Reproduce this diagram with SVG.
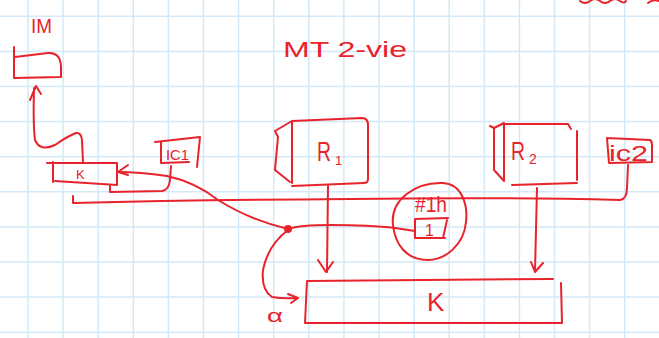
<svg xmlns="http://www.w3.org/2000/svg" width="659" height="338" viewBox="0 0 659 338">
<style>
.grid{stroke:#d3e9f8;stroke-width:1.5;fill:none}
.ink{stroke:#e8232b;stroke-width:2;fill:none;stroke-linecap:round;stroke-linejoin:round}
.lbl{fill:#e8232b;font-family:"Liberation Sans",Arial,sans-serif}
</style>
<rect width="659" height="338" fill="#ffffff"/>
<g id="grid" class="grid">
<path d="M28,0V338M63.1,0V338M98.2,0V338M133.3,0V338M168.4,0V338M203.5,0V338M238.6,0V338M273.7,0V338M308.8,0V338M343.9,0V338M379,0V338M414.1,0V338M449.2,0V338M484.3,0V338M519.4,0V338M554.5,0V338M589.6,0V338M624.7,0V338"/>
<path d="M0,16.3H659M0,51.4H659M0,86.5H659M0,121.6H659M0,156.7H659M0,191.8H659M0,226.9H659M0,262H659M0,297.1H659M0,332.2H659"/>
</g>
<g id="scribble" class="ink">
<path d="M580,1 q5,4 10,0 q5,-4 10,0 q5,4 10,0 q5,-4 10,0 q4,3 6,0 M648,3 q5,-4 11,-2"/>
</g>
<g id="title"><text class="lbl" x="283" y="57" font-size="22" textLength="124" lengthAdjust="spacingAndGlyphs">MT 2-vie</text></g>
<g id="IM">
<path class="ink" d="M14,47 L14,78 L61,77 L61,66 Q60,52 48,53 L15,57"/>
<text class="lbl" x="31" y="33" font-size="20" textLength="21" lengthAdjust="spacingAndGlyphs">IM</text>
</g>
<g id="K-small">
<path class="ink" d="M47,163 L117,163 M117,163 L117,185 M55,181 L117,185 M53,162 L53,182"/>
<text class="lbl" x="76" y="179" font-size="13">K</text>
</g>
<g id="IC1">
<path class="ink" d="M155,142 L200,137 L197,167 M161,142 L161,163 L189,162"/>
<text class="lbl" x="166" y="160" font-size="14" textLength="23" lengthAdjust="spacingAndGlyphs">IC1</text>
</g>
<g id="R1">
<path class="ink" d="M292,121 L362,118 Q368,118 368,125 L368,179 Q368,183 364,183 L292,186 M292,121 L292,183 M292,121 L275,131 L278,137 L275,170 L290,182"/>
<text class="lbl" x="317" y="161" font-size="27" textLength="14" lengthAdjust="spacingAndGlyphs">R</text>
<text class="lbl" x="335" y="165" font-size="13">1</text>
</g>
<g id="R2">
<path class="ink" d="M505,124 L568,124 L571,129 M577,131 L577,180 M512,185 L577,183 M490,126 L494,128 L494,170 L504,181 L504,123 L494,128"/>
<text class="lbl" x="511" y="160" font-size="25" textLength="14" lengthAdjust="spacingAndGlyphs">R</text>
<text class="lbl" x="529" y="164" font-size="14">2</text>
</g>
<g id="IC2">
<path class="ink" d="M607,138 L650,140 Q652,141 652,145 L652,162 L609,163 L607,138"/>
<text class="lbl" x="609" y="161" font-size="22" textLength="39" lengthAdjust="spacingAndGlyphs">ic2</text>
</g>
<g id="h1">
<path class="ink" d="M393,225 C390,200 415,182 443,183 C462,184 468,205 466,222 C464,245 445,260 428,260 C405,260 395,243 393,225 Z"/>
<text class="lbl" x="415" y="212" font-size="22" textLength="32" lengthAdjust="spacingAndGlyphs">#1h</text>
<path class="ink" d="M415,219 L448,218 M447,220 L443,238 M415,219 L415,238 L445,238"/>
<text class="lbl" x="425" y="236" font-size="16">1</text>
</g>
<g id="K-big">
<path class="ink" d="M307,281 L553,279 M307,281 L305,323 L562,323 M561,283 L562,323"/>
<text class="lbl" x="427" y="311" font-size="26">K</text>
</g>
<g id="alpha"><text class="lbl" x="267" y="322" font-size="18" textLength="16" lengthAdjust="spacingAndGlyphs">α</text></g>
<g id="connectors" class="ink">
<path d="M83,162 L82,140 Q81,132 76,133 Q66,137 55,145 Q40,152 35,140 Q33,125 34,88"/>
<path d="M30,100 L36,86 L41,94"/>
<path d="M110,186 L110,192 L162,191 Q169,190 170,180 L171,166"/>
<path d="M117,172 Q140,172 167,176 Q195,182 218,200 Q250,220 288,229"/>
<path d="M128,165 L118,172 L128,175"/>
<path d="M73,196 L73,203 Q200,200 350,199 Q500,197 620,200 Q627,199 627,188 L628,165"/>
<path d="M328,186 L327,272 M318,260 L326,272 L333,262"/>
<path d="M537,188 L535,272 M531,262 L535,272 L543,263"/>
<path d="M288,229 Q300,225 330,225 Q370,225 395,228 L415,231"/>
<path d="M288,230 Q268,245 263,270 Q261,290 272,297 Q283,299 298,298 M288,294 L298,298 L291,303"/>
<circle cx="288" cy="229" r="4" fill="#e8232b" stroke="none"/>
</g>
</svg>
